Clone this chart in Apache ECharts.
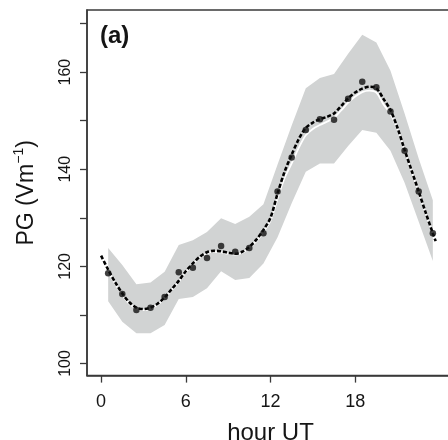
<!DOCTYPE html>
<html>
<head>
<meta charset="utf-8">
<script src="https://cdn.jsdelivr.net/npm/echarts@6/dist/echarts.min.js"></script>
<style>html,body{margin:0;padding:0;background:#fff;}#c{width:448px;height:440px;}</style>
</head>
<body>
<div id="c"></div>
<script>
// ---- data ----
const pointHours = [0.5,1.5,2.5,3.5,4.5,5.5,6.5,7.5,8.5,9.5,10.5,11.5,12.5,13.5,14.5,15.5,16.5,17.5,18.5,19.5,20.5,21.5,22.5,23.5];
const pgMean  = [118.6,114.3,111.0,111.5,113.7,118.8,119.7,121.7,124.2,123.0,123.8,126.8,135.4,142.4,148.1,150.3,150.2,154.5,158.0,156.9,151.9,143.8,135.4,126.8];
const pgUpper = [123.8,120.3,116.3,116.7,118.9,124.4,125.4,127.1,129.9,128.7,130.2,132.8,141.0,149.0,156.7,158.8,159.6,163.8,167.7,166.1,160.3,151.5,142.2,133.6];
const pgLower = [112.8,108.6,106.2,106.2,107.9,113.3,113.7,115.5,119.0,117.2,117.6,120.6,126.0,133.0,139.5,141.2,141.2,144.8,148.1,147.5,143.8,137.2,129.2,121.1];
const fitHours = [0,0.5,1,1.5,2,2.5,3,3.5,4,4.5,5,5.5,6,6.5,7,7.5,8,8.5,9,9.5,10,10.5,11,11.5,12,12.5,13,13.5,14,14.5,15,15.5,16,16.5,17,17.5,18,18.5,19,19.5,20,20.5,21,21.5,22,22.5,23,23.5,23.7];
const fitDashed = [122.2,119.3,116.7,114.4,112.6,111.5,111.2,111.5,112.3,113.6,115.3,117.0,119.0,120.6,122.0,122.9,123.2,123.1,122.8,122.6,123.0,124.0,125.5,127.5,130.0,135.0,139.5,143.0,146.2,148.5,149.6,150.3,150.8,151.5,153.0,154.6,155.8,156.6,157.0,156.7,154.5,152.2,148.5,144.0,139.7,135.4,131.0,126.8,125.2];
const fitWhite  = [122.0,119.0,116.4,114.1,112.3,111.3,111.0,111.3,112.1,113.4,115.1,116.8,118.8,120.4,121.8,122.7,123.0,122.9,122.6,122.4,122.8,123.8,125.2,127.1,129.4,134.0,138.2,141.2,144.4,147.0,148.3,149.1,149.8,150.6,152.1,153.7,155.0,155.9,156.2,155.8,153.4,151.4,148.2,143.8,139.5,135.2,130.8,126.6,125.0];
const xTicks = [0,6,12,18];
const yTicks = [100,110,120,130,140,150,160,170];
const yLabels = [100,120,140,160];

const FONT = '"Liberation Sans", Arial, Helvetica, sans-serif';
const pairs = (xs, ys) => xs.map((x, i) => [x, ys[i]]);

const chart = echarts.init(document.getElementById('c'), null, {renderer: 'canvas'});
chart.setOption({
  animation: false,
  backgroundColor: '#fff',
  title: {
    text: '(a)', left: 100, top: 24, padding: 0,
    textStyle: {fontFamily: FONT, fontSize: 24, fontWeight: 'bold', color: '#151515'}
  },
  grid: {
    left: 87, top: 10, width: 367, height: 365.6,
    outerBoundsMode: 'none', containLabel: false,
    show: true, borderColor: '#3a3a3a', borderWidth: 1.5, backgroundColor: 'transparent'
  },
  xAxis: {
    type: 'value', min: -1, max: 25,
    name: 'hour UT', nameLocation: 'middle', nameGap: 46,
    nameTextStyle: {fontFamily: FONT, fontSize: 24, color: '#151515'},
    axisLine: {show: true, onZero: false, lineStyle: {color: '#3a3a3a', width: 1.5}},
    axisTick: {show: true, customValues: xTicks, length: 7, lineStyle: {color: '#3a3a3a', width: 1.3}},
    axisLabel: {customValues: xTicks, margin: 17, fontFamily: FONT, fontSize: 18, color: '#151515'},
    splitLine: {show: false}
  },
  yAxis: {
    type: 'value', min: 97.5, max: 172.8,
    name: '{n|PG (Vm}{s|−1}{n|)}', nameLocation: 'middle', nameGap: 45, nameRotate: 90,
    nameTextStyle: {
      fontFamily: FONT, color: '#151515',
      rich: {
        n: {fontFamily: FONT, fontSize: 23, color: '#151515', lineHeight: 30},
        s: {fontFamily: FONT, fontSize: 14, color: '#151515', verticalAlign: 'top', lineHeight: 14}
      }
    },
    axisLine: {show: true, onZero: false, lineStyle: {color: '#3a3a3a', width: 1.5}},
    axisTick: {show: true, customValues: yTicks, length: 7, lineStyle: {color: '#3a3a3a', width: 1.3}},
    axisLabel: {customValues: yLabels, rotate: 90, margin: 13, fontFamily: FONT, fontSize: 16, color: '#151515'},
    splitLine: {show: false}
  },
  series: [
    {
      type: 'custom', silent: true, z: 1, clip: true,
      data: [0],
      renderItem: function (params, api) {
        const pts = [];
        for (let i = 0; i < pointHours.length; i++) pts.push(api.coord([pointHours[i], pgUpper[i]]));
        for (let i = pointHours.length - 1; i >= 0; i--) pts.push(api.coord([pointHours[i], pgLower[i]]));
        return {type: 'polygon', shape: {points: pts}, style: {fill: '#d1d3d3', stroke: null}};
      }
    },
    {
      type: 'line', data: pairs(fitHours, fitWhite), symbol: 'none', smooth: 0.3,
      lineStyle: {color: '#ffffff', width: 1.8}, z: 2
    },
    {
      type: 'line', data: pairs(fitHours, fitDashed), symbol: 'none', smooth: 0.3,
      lineStyle: {color: '#000000', width: 2.6, type: [4, 2], cap: 'butt'}, z: 3
    },
    {
      type: 'scatter', data: pairs(pointHours, pgMean), symbol: 'circle', symbolSize: 6.5,
      itemStyle: {color: '#111111'}, z: 4
    }
  ]
});
</script>
</body>
</html>
